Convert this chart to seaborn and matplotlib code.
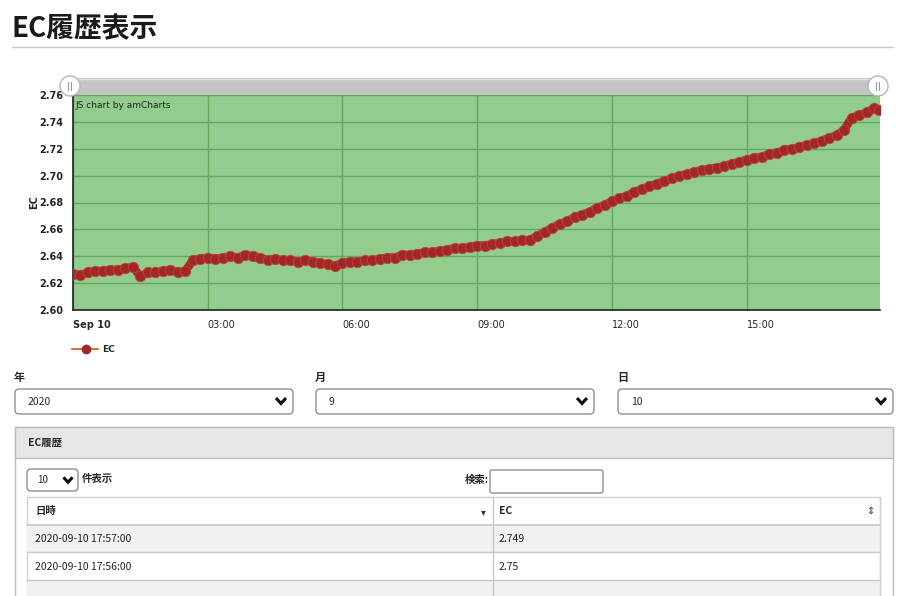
import pandas as pd
import matplotlib
matplotlib.use('Agg')
import matplotlib.pyplot as plt
from matplotlib.patches import Rectangle, FancyBboxPatch, Circle
import seaborn as sns

# EC readings, every 10 minutes from 00:00 (last one at 17:57)
ec_values = [
    2.627, 2.626, 2.628, 2.629, 2.629, 2.630,
    2.630, 2.631, 2.632, 2.625, 2.628, 2.628,
    2.629, 2.630, 2.628, 2.629, 2.637, 2.638,
    2.639, 2.638, 2.639, 2.640, 2.639, 2.641,
    2.640, 2.639, 2.637, 2.638, 2.637, 2.637,
    2.636, 2.637, 2.636, 2.635, 2.634, 2.633,
    2.635, 2.636, 2.636, 2.637, 2.637, 2.638,
    2.639, 2.639, 2.641, 2.641, 2.642, 2.643,
    2.643, 2.644, 2.645, 2.646, 2.646, 2.647,
    2.648, 2.648, 2.649, 2.650, 2.651, 2.651,
    2.652, 2.652, 2.655, 2.658, 2.661, 2.664,
    2.666, 2.669, 2.671, 2.673, 2.676, 2.678,
    2.681, 2.683, 2.685, 2.688, 2.690, 2.692,
    2.694, 2.696, 2.698, 2.700, 2.701, 2.703,
    2.704, 2.705, 2.706, 2.707, 2.709, 2.710,
    2.712, 2.713, 2.714, 2.716, 2.717, 2.719,
    2.720, 2.721, 2.723, 2.724, 2.726, 2.728,
    2.730, 2.734, 2.743, 2.745, 2.747, 2.750,
    2.749,
]
times = list(pd.date_range('2020-09-10 00:00', periods=108, freq='10min')) + [pd.Timestamp('2020-09-10 17:57')]
df = pd.DataFrame({'time': times, 'EC': ec_values})

y_ticks = [2.60, 2.62, 2.64, 2.66, 2.68, 2.70, 2.72, 2.74, 2.76]
x_tick_times = ['2020-09-10 00:00', '2020-09-10 03:00', '2020-09-10 06:00',
                '2020-09-10 09:00', '2020-09-10 12:00', '2020-09-10 15:00']
x_tick_labels = ['Sep 10', '03:00', '06:00', '09:00', '12:00', '15:00']

# form / table texts
select_labels = ['年', '月', '日']
select_values = ['2020', '9', '10']
table_dates = ['2020-09-10 17:57:00', '2020-09-10 17:56:00']
table_ec = ['2.749', '2.75']

sns.set_style('white')
plt.rcParams['font.family'] = ['Noto Sans CJK JP', 'DejaVu Sans']

W, H = 903, 596
fig = plt.figure(figsize=(W / 100, H / 100), dpi=100)

bg = fig.add_axes([0, 0, 1, 1], zorder=0)
bg.set_xlim(0, W)
bg.set_ylim(H, 0)
bg.axis('off')

# chart area
ax = fig.add_axes([73 / W, 1 - 310 / H, (880 - 73) / W, (310 - 95) / H], zorder=1)
ax.set_facecolor('#92cd8e')
sns.lineplot(data=df, x='time', y='EC', ax=ax, color='#a3262a', linewidth=6,
             marker='o', markersize=7.5, markeredgewidth=0.6, markeredgecolor='#b84a2e', zorder=3)
ax.set_ylim(2.60, 2.76)
ax.set_xlim(pd.Timestamp('2020-09-10 00:00'), pd.Timestamp('2020-09-10 17:58'))
ax.set_yticks(y_ticks)
ax.set_yticklabels(['%.2f' % v for v in y_ticks], fontsize=7, fontweight='bold', family='DejaVu Sans')
ax.set_xticks([pd.Timestamp(t) for t in x_tick_times])
ax.set_xticklabels(x_tick_labels, fontsize=7, family='DejaVu Sans')
ax.get_xticklabels()[0].set_fontweight('bold')
for lbl in ax.get_xticklabels():
    lbl.set_horizontalalignment('left')
ax.tick_params(axis='both', direction='out', length=4, width=1, color='#222222', pad=3)
ax.grid(True, color='#62a95e', linewidth=1)
for side in ['top', 'right']:
    ax.spines[side].set_visible(False)
for side in ['left', 'bottom']:
    ax.spines[side].set_color('#222222')
    ax.spines[side].set_linewidth(1.2)
ax.set_xlabel('')
ax.set_ylabel('EC', fontsize=7, fontweight='bold', family='DejaVu Sans', labelpad=0)
ax.text(0.003, 0.97, 'JS chart by amCharts', transform=ax.transAxes, fontsize=6.5,
        family='DejaVu Sans', color='#222222', va='top')

fg = fig.add_axes([0, 0, 1, 1], zorder=2)
fg.set_xlim(0, W)
fg.set_ylim(H, 0)
fg.axis('off')

# title
fg.text(12, 29, 'EC履歴表示', fontsize=20, fontweight='bold', va='center', color='#1a1a1a')
bg.plot([12, 893], [47, 47], color='#c8c8c8', linewidth=1)

# scrollbar
bg.add_patch(Rectangle((70, 78), 808, 17, facecolor='#c5c5c5', edgecolor='none'))
bg.plot([70, 878], [78.5, 78.5], color='#e2e2e2', linewidth=1)
for hx in [70, 878]:
    fg.add_patch(Circle((hx, 86), 10, facecolor='white', edgecolor='#b5b5b5', linewidth=1))
    fg.plot([hx - 1.5, hx - 1.5], [82, 90], color='#999999', linewidth=0.8)
    fg.plot([hx + 1.5, hx + 1.5], [82, 90], color='#999999', linewidth=0.8)

# legend
bg.plot([72, 98], [349, 349], color='#d4743c', linewidth=1.5)
bg.plot([86], [349], marker='o', color='#a3262a', markersize=6)
bg.text(102, 349, 'EC', fontsize=6.5, fontweight='bold', family='DejaVu Sans', va='center')


def chevron(axis, x, y, size=5, lw=2.2):
    axis.plot([x - size, x, x + size], [y - size * 0.6, y + size * 0.5, y - size * 0.6],
              color='#111111', linewidth=lw, solid_capstyle='butt', solid_joinstyle='miter')


def box(axis, x0, y0, x1, y1, fc='white', ec='#8f8f8f', r=4, lw=1):
    axis.add_patch(FancyBboxPatch((x0, y0), x1 - x0, y1 - y0,
                                  boxstyle='round,pad=0,rounding_size=%d' % r,
                                  facecolor=fc, edgecolor=ec, linewidth=lw))


# selects
select_x = [(15, 293), (316, 594), (618, 893)]
for (x0, x1), lab, val in zip(select_x, select_labels, select_values):
    bg.text(x0 - 1, 377, lab, fontsize=8, fontweight='bold', va='center')
    box(bg, x0, 389, x1, 414)
    bg.text(x0 + 13, 402, val, fontsize=7.5, va='center')
    chevron(bg, x1 - 12, 401)

# panel
bg.add_patch(Rectangle((15, 427), 878, 200, facecolor='white', edgecolor='#bdbdbd', linewidth=1))
bg.add_patch(Rectangle((15, 427), 878, 31, facecolor='#e6e6e6', edgecolor='#bdbdbd', linewidth=1))
bg.text(28, 443, 'EC履歴', fontsize=7.5, fontweight='bold', va='center')

box(bg, 27, 469, 78, 491)
bg.text(37, 480, '10', fontsize=7, va='center')
chevron(bg, 68, 480, size=4.5)
bg.text(82, 479, '件表示', fontsize=7.5, fontweight='bold', va='center')
bg.text(465, 480, '検索:', fontsize=7.5, fontweight='bold', va='center')
box(bg, 490, 470, 603, 493, r=2)

# table
bg.add_patch(Rectangle((27, 497), 853, 110, facecolor='white', edgecolor='#cfcfcf', linewidth=1))
row_y = [525, 552, 580]
bg.add_patch(Rectangle((27, 525), 853, 27, facecolor='#f1f1f1', edgecolor='none'))
bg.add_patch(Rectangle((27, 580), 853, 30, facecolor='#f1f1f1', edgecolor='none'))
for ry in row_y:
    bg.plot([27, 880], [ry, ry], color='#c8c8c8', linewidth=1.2 if ry == 525 else 1)
bg.plot([493, 493], [497, 596], color='#c8c8c8', linewidth=1)
bg.plot([880, 880], [497, 596], color='#cfcfcf', linewidth=1)
bg.text(35, 511, '日時', fontsize=7.5, fontweight='bold', va='center')
bg.text(483, 512, '▾', fontsize=7, va='center', ha='center', family='DejaVu Sans', color='#333333')
bg.text(499, 511, 'EC', fontsize=7.5, fontweight='bold', va='center')
bg.text(870, 511, '⇕', fontsize=7, va='center', ha='center', family='DejaVu Sans', color='#333333')
for i, (d, v) in enumerate(zip(table_dates, table_ec)):
    cy = 539 + i * 27.5
    bg.text(35, cy, d, fontsize=7.5, va='center', color='#222222')
    bg.text(499, cy, v, fontsize=7.5, va='center', color='#222222')

plt.savefig('out.png', dpi=100)
